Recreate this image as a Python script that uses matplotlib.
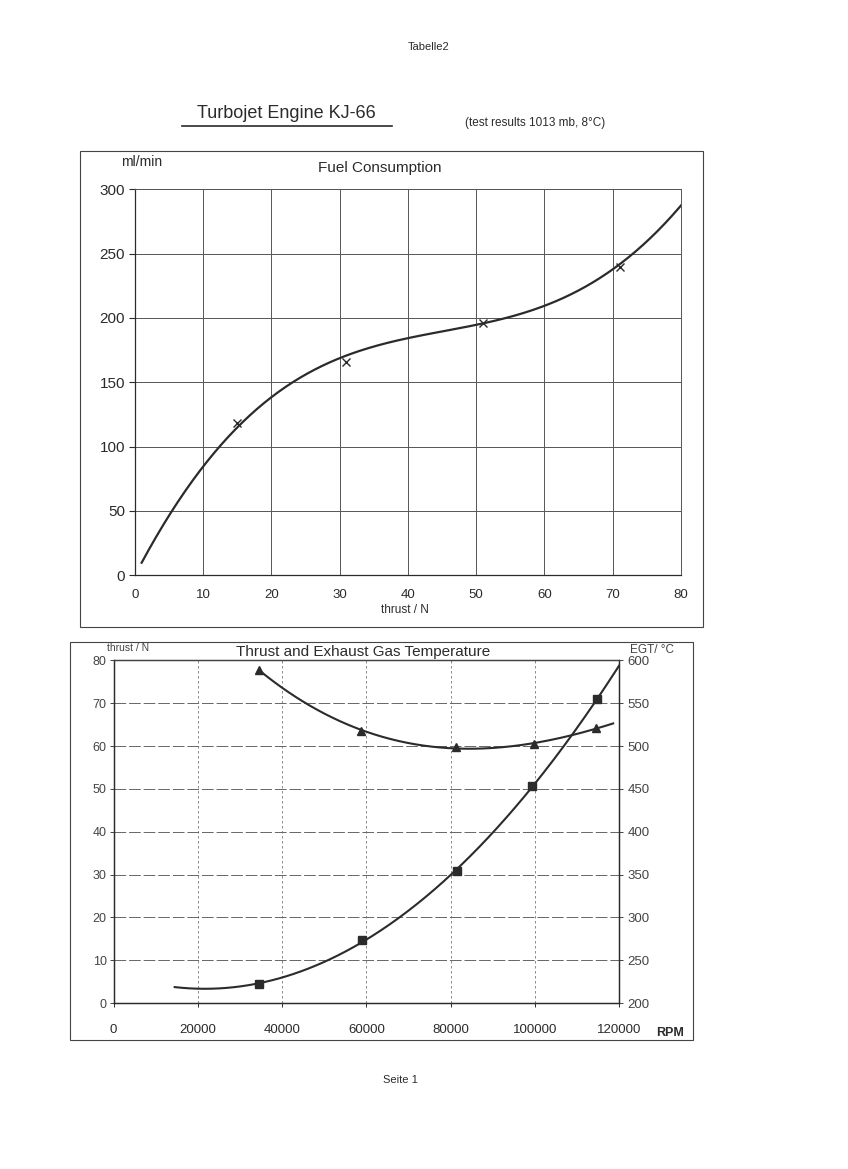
import numpy as np
import matplotlib
matplotlib.use('Agg')
import matplotlib.pyplot as plt
from matplotlib.patches import Rectangle
from matplotlib.lines import Line2D

plt.rcParams['font.family'] = ['Liberation Sans', 'DejaVu Sans']

fuel_thrust = [15, 31, 51, 71]
fuel_mlmin = [118, 166, 196, 240]
curve_thrust = [1, 5, 10, 15, 20, 25, 30, 35, 40, 45, 50, 55, 60, 65, 70, 75, 80]
curve_mlmin = [10, 46, 83, 117, 138, 155, 170, 177, 184, 189, 195, 202, 210, 220, 237, 261, 287]

# Thrust and EGT over RPM
rpm_thrust = [34500, 59000, 81500, 99400, 114800]
thrust_n = [4.5, 14.6, 30.8, 50.7, 71.0]
rpm_egt = [34500, 58800, 81200, 99800, 114600]
egt_c = [589, 518, 499, 502, 521]
thrust_trend_range = [14500, 120000]
egt_trend_range = [34500, 118600]

ink = '#2b2b2b'
gridc = '#555555'

fig = plt.figure(figsize=(8.48, 11.69), dpi=100)
fig.patch.set_facecolor('white')

# page texts
fig.text(0.505, 0.960, 'Tabelle2', ha='center', va='center', fontsize=8, color=ink)
fig.text(0.338, 0.903, 'Turbojet Engine KJ-66', ha='center', va='center', fontsize=13, color=ink)
fig.add_artist(Line2D([0.215, 0.462], [0.892, 0.892], color=ink, lw=1.2))
fig.text(0.631, 0.895, '(test results 1013 mb, 8°C)', ha='center', va='center', fontsize=8.5, color=ink)
fig.text(0.472, 0.076, 'Seite 1', ha='center', va='center', fontsize=8, color=ink)

# chart frames
fig.add_artist(Rectangle((0.094, 0.4636), 0.735, 0.407, transform=fig.transFigure,
                         fill=False, edgecolor='#444444', lw=0.8))
fig.add_artist(Rectangle((0.0825, 0.1104), 0.735, 0.340, transform=fig.transFigure,
                         fill=False, edgecolor='#444444', lw=0.8))

# ---- Fuel Consumption
ax1 = fig.add_axes([0.159, 0.508, 0.644, 0.330])
coef = np.polyfit(curve_thrust, curve_mlmin, 5)
xs = np.linspace(curve_thrust[0], curve_thrust[-1], 300)
ax1.plot(xs, np.polyval(coef, xs), color=ink, lw=1.6)
ax1.plot(fuel_thrust, fuel_mlmin, 'x', color=ink, ms=6, mew=1.0)
ax1.set_xlim(0, 80)
ax1.set_ylim(0, 300)
ax1.set_xticks(range(0, 81, 10))
ax1.set_yticks(range(0, 301, 50))
ax1.grid(True, color=gridc, lw=0.7)
ax1.tick_params(axis='y', labelsize=11, colors=ink, length=4, width=0.8, pad=3)
ax1.tick_params(axis='x', labelsize=9.5, colors=ink, length=0, pad=10)
for s in ['top', 'right']:
    ax1.spines[s].set_color(gridc)
    ax1.spines[s].set_linewidth(0.7)
for s in ['left', 'bottom']:
    ax1.spines[s].set_color(ink)
    ax1.spines[s].set_linewidth(0.9)
fig.text(0.448, 0.856, 'Fuel Consumption', ha='center', va='center', fontsize=11, color=ink)
fig.text(0.167, 0.861, 'ml/min', ha='center', va='center', fontsize=10, color=ink)
fig.text(0.478, 0.478, 'thrust / N', ha='center', va='center', fontsize=8.5, color=ink)

# ---- Thrust and Exhaust Gas Temperature
ax2 = fig.add_axes([0.134, 0.142, 0.596, 0.293])
ct = np.polyfit(np.array(rpm_thrust) / 1000, thrust_n, 2)
xt = np.linspace(thrust_trend_range[0], thrust_trend_range[1], 300)
ax2.plot(xt, np.polyval(ct, xt / 1000), color=ink, lw=1.5)
ax2.plot(rpm_thrust, thrust_n, 's', color=ink, ms=6)
ax2.set_xlim(0, 120000)
ax2.set_ylim(0, 80)
ax2.set_xticks(range(0, 120001, 20000))
ax2.set_yticks(range(0, 81, 10))
ax2.xaxis.grid(True, color='#777777', lw=0.6, ls=(0, (3, 3)))
ax2.yaxis.grid(True, color='#666666', lw=0.7, ls=(0, (12, 3)))
ax2.tick_params(axis='y', labelsize=9, colors='#444444', length=3, width=0.7, pad=2)
ax2.tick_params(axis='x', labelsize=9.5, colors=ink, length=3, width=0.7, pad=12)

ax3 = ax2.twinx()
ce = np.polyfit(np.array(rpm_egt) / 1000, egt_c, 3)
xe = np.linspace(egt_trend_range[0], egt_trend_range[1], 300)
ax3.plot(xe, np.polyval(ce, xe / 1000), color=ink, lw=1.5)
ax3.plot(rpm_egt, egt_c, '^', color=ink, ms=6)
ax3.set_ylim(200, 600)
ax3.set_yticks(range(200, 601, 50))
ax3.tick_params(axis='y', labelsize=9.5, colors='#444444', length=3, width=0.7, pad=3)
for a in (ax2, ax3):
    for s in a.spines.values():
        s.set_color(ink)
        s.set_linewidth(0.9)
    a.spines['top'].set_color('#444444')

fig.text(0.428, 0.4425, 'Thrust and Exhaust Gas Temperature', ha='center', va='center',
         fontsize=11, color=ink)
fig.text(0.151, 0.4455, 'thrust / N', ha='center', va='center', fontsize=7.5, color='#444444')
fig.text(0.769, 0.4385, 'EGT/ °C', ha='center', va='bottom', fontsize=8.5, color='#444444')
fig.text(0.790, 0.116, 'RPM', ha='center', va='center', fontsize=9, fontweight='bold', color=ink)

fig.savefig('out.png', dpi=100)
